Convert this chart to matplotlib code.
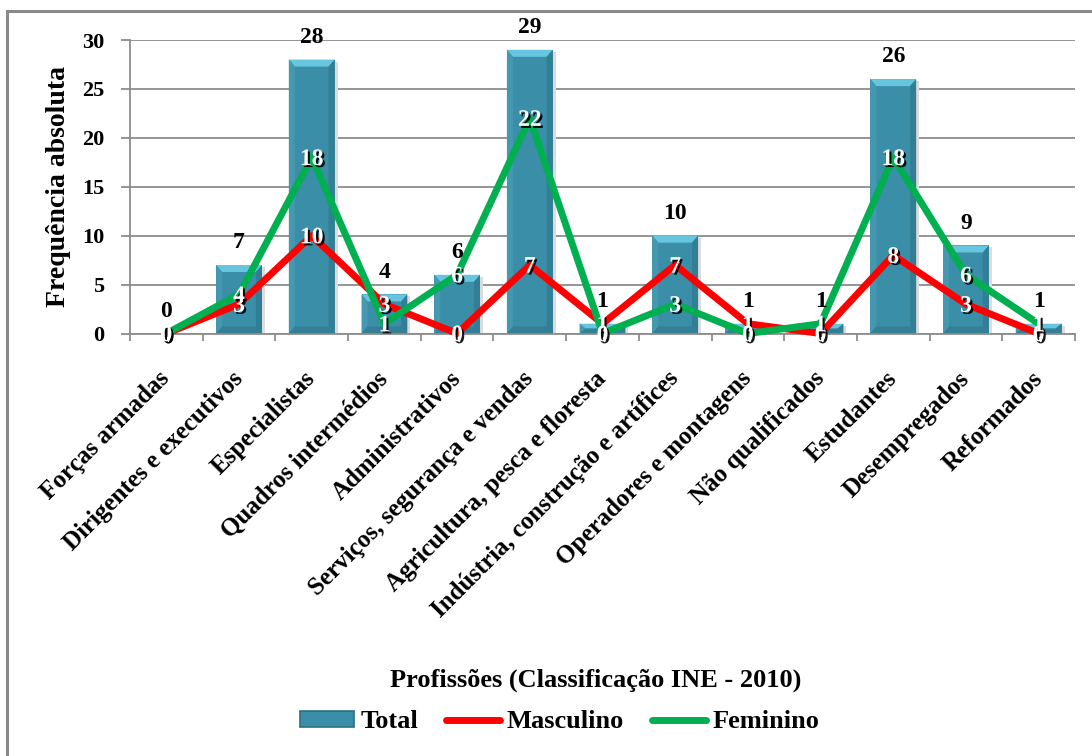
import matplotlib
matplotlib.use("Agg")
import matplotlib.pyplot as plt
import matplotlib.patheffects as pe
from matplotlib.patches import Polygon, Rectangle
from matplotlib.lines import Line2D

# Professions (INE 2010 classification) and absolute frequencies
categories = [
    "Forças armadas",
    "Dirigentes e executivos",
    "Especialistas",
    "Quadros intermédios",
    "Administrativos",
    "Serviços, segurança e vendas",
    "Agricultura, pesca e floresta",
    "Indústria, construção e artífices",
    "Operadores e montagens",
    "Não qualificados",
    "Estudantes",
    "Desempregados",
    "Reformados",
]
total = [0, 7, 28, 4, 6, 29, 1, 10, 1, 1, 26, 9, 1]
masculino = [0, 3, 10, 3, 0, 7, 1, 7, 1, 0, 8, 3, 0]
feminino = [0, 4, 18, 1, 6, 22, 0, 3, 0, 1, 18, 6, 1]

FONT = "Liberation Serif"
plt.rcParams["font.family"] = [FONT, "DejaVu Serif"]
plt.rcParams["font.weight"] = "bold"

W, H = 1092, 756
fig = plt.figure(figsize=(W / 100, H / 100), dpi=100)
fig.patch.set_facecolor("white")

# chart-area frame (top and left edges visible)
fig.add_artist(Line2D([7 / W, 7 / W], [0, 1 - 11 / H], color="#8a8a8a", lw=2.2,
                      transform=fig.transFigure))
fig.add_artist(Line2D([7 / W, 1], [1 - 11 / H, 1 - 11 / H], color="#8a8a8a", lw=2.2,
                      transform=fig.transFigure))

ax_l, ax_r = 130, 1075
ax_top, ax_bot = 40, 333.5
ax = fig.add_axes([ax_l / W, 1 - ax_bot / H, (ax_r - ax_l) / W, (ax_bot - ax_top) / H])

n = len(categories)
x = list(range(n))
ax.set_xlim(-0.5, n - 0.5)
ax.set_ylim(0, 30)

grid_c = "#8c8c8c"
ax.set_yticks(range(0, 31, 5))
ax.yaxis.grid(True, color=grid_c, lw=1.3, zorder=0)
ax.set_axisbelow(True)
for s in ("top", "right"):
    ax.spines[s].set_visible(False)
for s in ("left", "bottom"):
    ax.spines[s].set_color(grid_c)
    ax.spines[s].set_linewidth(1.3)
ax.tick_params(axis="y", direction="out", length=6.5, width=1.3, color=grid_c,
               labelsize=16, pad=12)
for lab in ax.get_yticklabels():
    lab.set_fontweight("bold")

# category ticks sit between categories; labels at the centres
ax.set_xticks([i - 0.5 for i in range(n + 1)], minor=True)
ax.tick_params(axis="x", which="minor", direction="out", length=5, width=1.3, color=grid_c)
ax.set_xticks(x)
ax.set_xticklabels(categories, rotation=45, ha="right", va="center",
                   rotation_mode="anchor", fontsize=18, fontweight="bold")
ax.tick_params(axis="x", which="major", length=0, pad=30)

# bevelled bars
bw = 0.63
face = "#3a8ea7"
ax.bar(x, total, width=bw, color=face, edgecolor="none", zorder=2)
px_x = n / (ax_r - ax_l)
px_y = 30 / (ax_bot - ax_top)
for xi, v in zip(x, total):
    if v <= 0:
        continue
    x0, x1 = xi - bw / 2, xi + bw / 2
    bx = 6 * px_x
    by = min(7 * px_y, v / 2)
    # soft shadow on the right
    ax.add_patch(Rectangle((x1, 0), 3 * px_x, v - 2 * px_y, color="#dcdcdc", zorder=1.5, lw=0))
    ax.add_patch(Polygon([(x0, v), (x1, v), (x1 - bx, v - by), (x0 + bx, v - by)],
                         closed=True, color="#66c6e0", lw=0, zorder=2.1))
    ax.add_patch(Polygon([(x0, v), (x0 + bx, v - by), (x0 + bx, by), (x0, 0)],
                         closed=True, color="#4498b0", lw=0, zorder=2.1))
    ax.add_patch(Polygon([(x1, v), (x1 - bx, v - by), (x1 - bx, by), (x1, 0)],
                         closed=True, color="#327e94", lw=0, zorder=2.1))
    ax.add_patch(Polygon([(x0, 0), (x1, 0), (x1 - bx, by), (x0 + bx, by)],
                         closed=True, color="#347f96", lw=0, zorder=2.1))

# lines
red = "#ff0000"
green = "#00b050"
ax.plot(x, masculino, color=red, lw=5, solid_capstyle="round", solid_joinstyle="round",
        zorder=3, clip_on=False)
ax.plot(x, feminino, color=green, lw=5, solid_capstyle="round", solid_joinstyle="round",
        zorder=3.1, clip_on=False)

# value labels
for xi, v in zip(x, total):
    ax.annotate(str(v), (xi, v), xytext=(0, 16), textcoords="offset points",
                ha="center", va="center", fontsize=17, fontweight="bold", color="black",
                zorder=5, annotation_clip=False)

shadow = [pe.SimplePatchShadow(offset=(1.5, -1.5), shadow_rgbFace="black", alpha=0.9),
          pe.Normal()]
for series in (masculino, feminino):
    for xi, v in zip(x, series):
        ax.annotate(str(v), (xi, v), xytext=(0, -1.5), textcoords="offset points",
                    ha="center", va="center", fontsize=17, fontweight="bold",
                    color="white", zorder=6, path_effects=shadow, annotation_clip=False)

ax.set_ylabel("Frequência absoluta", fontsize=20, fontweight="bold", labelpad=8)

fig.text(596 / W, 1 - 680 / H, "Profissões (Classificação INE - 2010)",
         ha="center", va="center", fontsize=19, fontweight="bold")

handles = [
    Rectangle((0, 0), 1, 1, facecolor=face, edgecolor="#2b6f83", lw=1.2),
    Line2D([], [], color=red, lw=5, solid_capstyle="round"),
    Line2D([], [], color=green, lw=5, solid_capstyle="round"),
]
fig.legend(handles, ["Total", "Masculino", "Feminino"], loc="center",
           bbox_to_anchor=(559.5 / W, 1 - 722 / H), ncol=3, frameon=False,
           prop={"family": FONT, "weight": "bold", "size": 19},
           handlelength=2.05, handleheight=0.55, handletextpad=0.25,
           columnspacing=1.05, borderpad=0.2)

fig.savefig("out.png", dpi=100, facecolor="white")
